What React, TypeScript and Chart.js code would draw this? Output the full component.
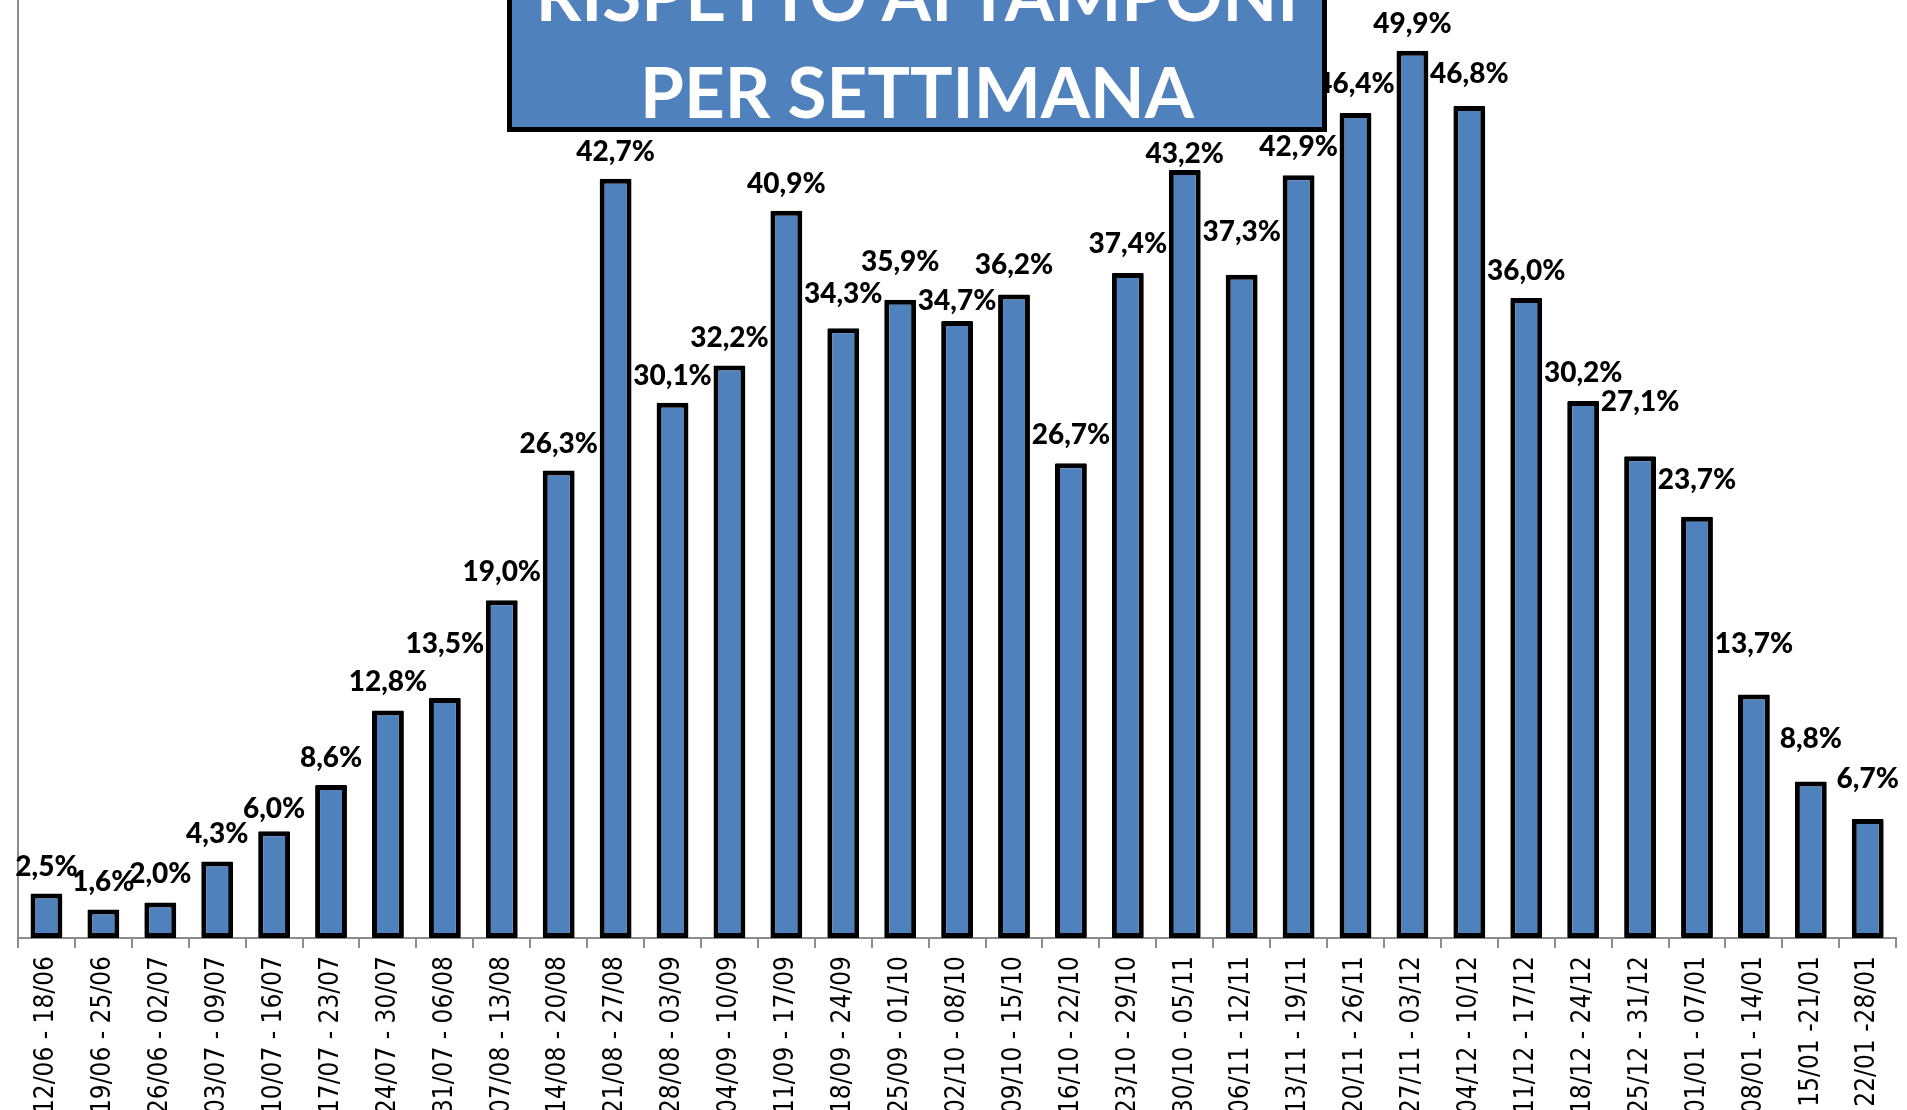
import React, { useEffect, useRef } from "react";
import { Chart, registerables } from "chart.js";

Chart.register(...registerables);

const weeks = [
  "12/06 - 18/06", "19/06 - 25/06", "26/06 - 02/07", "03/07 - 09/07", "10/07 - 16/07",
  "17/07 - 23/07", "24/07 - 30/07", "31/07 - 06/08", "07/08 - 13/08", "14/08 - 20/08",
  "21/08 - 27/08", "28/08 - 03/09", "04/09 - 10/09", "11/09 - 17/09", "18/09 - 24/09",
  "25/09 - 01/10", "02/10 - 08/10", "09/10 - 15/10", "16/10 - 22/10", "23/10 - 29/10",
  "30/10 - 05/11", "06/11 - 12/11", "13/11 - 19/11", "20/11 - 26/11", "27/11 - 03/12",
  "04/12 - 10/12", "11/12 - 17/12", "18/12 - 24/12", "25/12 - 31/12", "01/01 - 07/01",
  "08/01 - 14/01", "15/01 -21/01", "22/01 -28/01",
];

const positivity = [
  2.5, 1.6, 2.0, 4.3, 6.0, 8.6, 12.8, 13.5, 19.0, 26.3, 42.7, 30.1, 32.2, 40.9, 34.3,
  35.9, 34.7, 36.2, 26.7, 37.4, 43.2, 37.3, 42.9, 46.4, 49.9, 46.8, 36.0, 30.2, 27.1,
  23.7, 13.7, 8.8, 6.7,
];

// vertical nudge (px) of each value label above its bar
const labelLift = [
  18, 19, 19, 19, 13, 18, 19, 45, 19, 17, 18, 18, 19, 18, 25,
  29, 11, 20, 19, 20, 7, 34, 19, 20, 18, 23, 18, 19, 45,
  28, 41, 34, 31,
];

const titleLines = ["RISPETTO AI TAMPONI", "PER SETTIMANA"];

const valueLabels = {
  id: "valueLabels",
  afterDatasetsDraw(chart: any) {
    const ctx = chart.ctx;
    const meta = chart.getDatasetMeta(0);
    ctx.save();
    ctx.font = "900 28px Lato";
    ctx.fillStyle = "#000000";
    ctx.textAlign = "center";
    ctx.textBaseline = "alphabetic";
    meta.data.forEach((bar: any, i: number) => {
      const v = positivity[i];
      const txt = v.toFixed(1).replace(".", ",") + "%";
      ctx.fillText(txt, bar.x, bar.y - labelLift[i]);
    });
    ctx.restore();
  },
};

export default function App() {
  const ref = useRef<HTMLCanvasElement | null>(null);
  useEffect(() => {
    if (!ref.current) return;
    const chart = new Chart(ref.current, {
      type: "bar",
      data: {
        labels: weeks,
        datasets: [
          {
            data: positivity,
            backgroundColor: "#4F81BD",
            borderColor: "#000000",
            borderWidth: 5,
            borderSkipped: false,
            borderRadius: 1,
            barPercentage: 0.56,
            categoryPercentage: 1,
          },
        ],
      },
      options: {
        animation: false,
        responsive: false,
        devicePixelRatio: 1,
        layout: { padding: { left: 18, right: 4, top: 0, bottom: 0 } },
        plugins: {
          legend: { display: false },
          title: { display: false },
          tooltip: { enabled: false },
        },
        scales: {
          x: {
            offset: true,
            grid: {
              display: true,
              drawOnChartArea: false,
              drawTicks: true,
              tickLength: 10,
              color: "#8c8c8c",
              lineWidth: 2,
              offset: true,
            },
            border: { display: true, color: "#8c8c8c", width: 2 },
            ticks: {
              autoSkip: false,
              minRotation: 90,
              maxRotation: 90,
              padding: 8,
              color: "#000000",
              font: { family: "'DejaVu Sans Condensed', 'DejaVu Sans'", size: 26 },
            },
            afterFit: (scale: any) => {
              scale.height = 172;
            },
          },
          y: {
            min: 0,
            max: 52.76,
            grid: { display: false, drawTicks: false },
            border: { display: true, color: "#8c8c8c", width: 2 },
            ticks: { display: false },
            afterFit: (scale: any) => {
              scale.width = 0;
            },
          },
        },
      },
      plugins: [valueLabels],
    });
    return () => chart.destroy();
  }, []);

  return (
    <div
      style={{
        position: "fixed",
        left: 0,
        top: 0,
        width: 1907,
        height: 1110,
        overflow: "hidden",
        background: "#ffffff",
      }}
    >
      <canvas ref={ref} width={1907} height={1110} style={{ display: "block", width: 1907, height: 1110 }} />
      <div
        style={{
          position: "absolute",
          left: 507,
          top: -120,
          width: 820,
          height: 252,
          boxSizing: "border-box",
          border: "5px solid #000000",
          background: "#4F81BD",
        }}
      >
        <div
          style={{
            position: "absolute",
            left: 0,
            top: 60,
            width: "100%",
            textAlign: "center",
            color: "#ffffff",
            fontFamily: "Lato",
            fontWeight: "bold",
            fontSize: 71,
            lineHeight: "97px",
            whiteSpace: "nowrap",
          }}
        >
          {titleLines.map((t) => (
            <div key={t}>{t}</div>
          ))}
        </div>
      </div>
    </div>
  );
}
